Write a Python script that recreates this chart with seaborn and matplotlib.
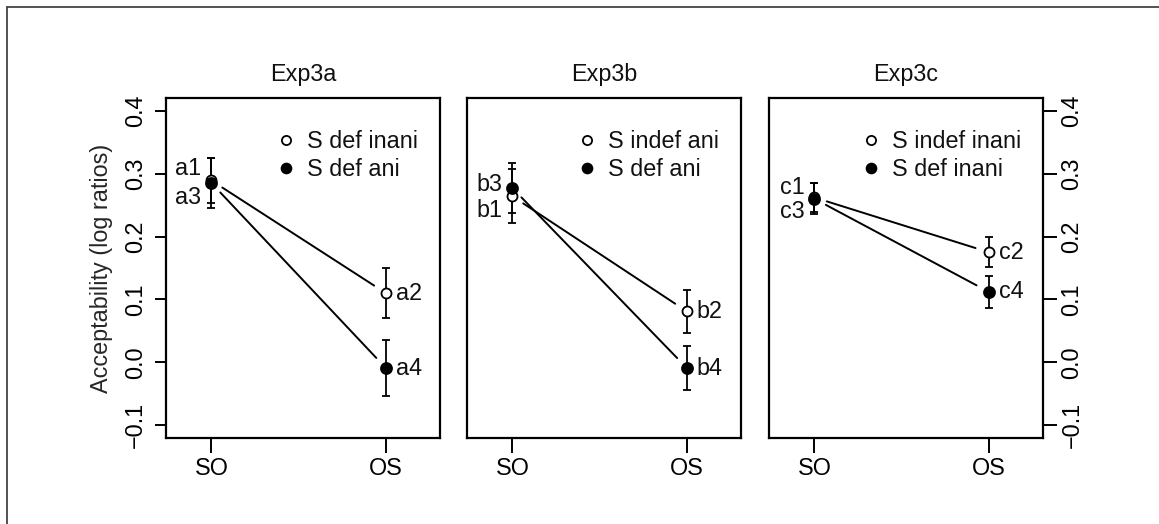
import numpy as np
import pandas as pd
import seaborn as sns
import matplotlib.pyplot as plt
from matplotlib.lines import Line2D

# panels and word orders
experiments = ["Exp3a", "Exp3b", "Exp3c"]
orders = ["SO", "OS"]

# open circle condition (legend row 1) and filled circle condition (legend row 2)
open_names = ["S def inani", "S indef ani", "S indef inani"]
filled_names = ["S def ani", "S def ani", "S def inani"]

# mean acceptability (log ratios) at SO, OS
open_means = [[0.289, 0.110], [0.264, 0.081], [0.262, 0.175]]
filled_means = [[0.285, -0.009], [0.277, -0.009], [0.260, 0.112]]

# error bar half widths at SO, OS
open_err = [[0.035, 0.040], [0.043, 0.034], [0.023, 0.024]]
filled_err = [[0.040, 0.045], [0.039, 0.035], [0.025, 0.026]]

# condition labels
open_labels = [["a1", "a2"], ["b1", "b2"], ["c1", "c2"]]
filled_labels = [["a3", "a4"], ["b3", "b4"], ["c3", "c4"]]

y_ticks = [-0.1, 0.0, 0.1, 0.2, 0.3, 0.4]

# layout (pixels)
W, H = 1159, 524
panel_left = [166, 467, 769]
panel_w, panel_top, panel_bottom = 274, 98, 438
so_dy = [[12, -14], [-14, 4], [10, -13]]  # vertical shift of SO labels (open, filled)
PT = 72 / 100  # px -> points

sns.set_style("ticks")
plt.rcParams['font.family'] = ['Liberation Sans', 'DejaVu Sans']
plt.rcParams['text.color'] = '#111111'
FS = 16.8

fig = plt.figure(figsize=(W / 100, H / 100), dpi=100)

# border of the figure (top and left only)
fig.add_artist(Line2D([7 / W, 7 / W], [0, 1 - 7 / H], transform=fig.transFigure, color='#444444', lw=1.3))
fig.add_artist(Line2D([7 / W, 1], [1 - 7 / H, 1 - 7 / H], transform=fig.transFigure, color='#444444', lw=1.3))

for i, exp in enumerate(experiments):
    ax = fig.add_axes([panel_left[i] / W, 1 - panel_bottom / H, panel_w / W, (panel_bottom - panel_top) / H])
    ax.set_xlim(0.74, 2.31)
    ax.set_ylim(-0.12, 0.42)
    for s in ax.spines.values():
        s.set_linewidth(1.6)
        s.set_color('black')

    df = pd.DataFrame({
        'pos': [1, 2, 1, 2],
        'mean': open_means[i] + filled_means[i],
        'err': open_err[i] + filled_err[i],
        'cond': ['open', 'open', 'filled', 'filled'],
        'label': open_labels[i] + filled_labels[i],
    })

    # connecting lines with gaps near the points (as R type="b")
    for cond in ['open', 'filled']:
        d = df[df['cond'] == cond]
        p = ax.transData.transform(np.column_stack([d['pos'], d['mean']]))
        v = p[1] - p[0]
        u = v / np.hypot(*v)
        a = p[0] + u * 13
        b = p[1] - u * 14
        q = ax.transData.inverted().transform(np.vstack([a, b]))
        ax.plot(q[:, 0], q[:, 1], color='black', lw=1.4, zorder=2)

    ax.errorbar(df['pos'], df['mean'], yerr=df['err'], fmt='none', ecolor='black',
                elinewidth=1.3, capsize=3, capthick=1.3, zorder=3)

    sns.scatterplot(data=df[df['cond'] == 'open'], x='pos', y='mean', ax=ax, marker='o',
                    facecolor='white', edgecolor='black', linewidth=1.3, s=52, zorder=4)
    sns.scatterplot(data=df[df['cond'] == 'filled'], x='pos', y='mean', ax=ax, marker='o',
                    color='black', edgecolor='black', linewidth=0, s=85, zorder=5)

    # point labels
    for k, row in df.iterrows():
        if row['pos'] == 1:
            dy = so_dy[i][0] if row['cond'] == 'open' else so_dy[i][1]
            ax.annotate(row['label'], (row['pos'], row['mean']), xytext=(-10 * PT, dy * PT),
                        textcoords='offset points', ha='right', va='center', fontsize=FS)
        else:
            ax.annotate(row['label'], (row['pos'], row['mean']), xytext=(10 * PT, 0),
                        textcoords='offset points', ha='left', va='center', fontsize=FS)

    ax.set_xticks([1, 2])
    ax.set_xticklabels(orders, fontsize=FS)
    ax.tick_params(axis='x', direction='out', length=15 * PT, width=1.4, pad=3, colors='black')
    ax.set_xlabel('')
    ax.set_ylabel('')

    tick_labels = [f"{v:.1f}".replace('-', '\u2212') for v in y_ticks]
    if i == 0:
        ax.set_yticks(y_ticks)
        ax.set_yticklabels(tick_labels, fontsize=FS, rotation=90, va='center')
        ax.tick_params(axis='y', direction='out', length=11 * PT, width=1.4, pad=6, colors='black')
        ax.set_ylabel('Acceptability (log ratios)', fontsize=FS, labelpad=8)
    elif i == 2:
        ax.yaxis.tick_right()
        ax.set_yticks(y_ticks)
        ax.set_yticklabels(tick_labels, fontsize=FS, rotation=90, va='center')
        ax.tick_params(axis='y', direction='out', length=14 * PT, width=1.4, pad=2.5, colors='black')
    else:
        ax.set_yticks([])

    ax.set_title(exp, fontsize=FS, pad=12.5)

    handles = [
        Line2D([], [], ls='none', marker='o', mfc='white', mec='black', mew=1.3, ms=6.6),
        Line2D([], [], ls='none', marker='o', mfc='black', mec='black', mew=0, ms=8.4),
    ]
    ax.legend(handles, [open_names[i], filled_names[i]], loc='upper right',
              bbox_to_anchor=(1 - 22 / panel_w, 1 - 32 / (panel_bottom - panel_top)),
              frameon=False, fontsize=FS, borderaxespad=0, borderpad=0,
              handlelength=0.6, handletextpad=0.6, labelspacing=0.23)

fig.savefig('out.png', dpi=100)
